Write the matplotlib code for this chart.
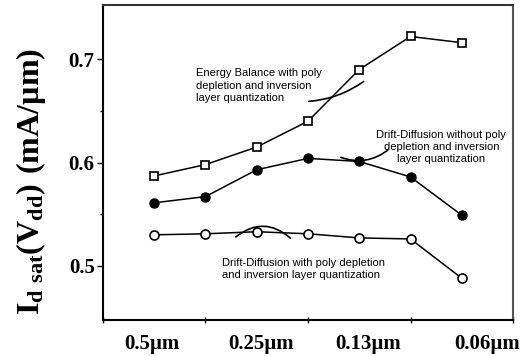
import matplotlib
matplotlib.use('Agg')
import matplotlib.pyplot as plt

plt.rcParams['mathtext.fontset'] = 'custom'
plt.rcParams['mathtext.rm'] = 'Liberation Serif'
plt.rcParams['mathtext.bf'] = 'Liberation Serif:bold'

# data: nodes 1..7
nodes = [1, 2, 3, 4, 5, 6, 7]
energy_balance = [0.587, 0.598, 0.615, 0.640, 0.690, 0.722, 0.716]
dd_no_qm = [0.561, 0.567, 0.593, 0.604, 0.601, 0.586, 0.549]
dd_qm = [0.530, 0.531, 0.533, 0.531, 0.527, 0.526, 0.488]

node_labels = ['0.5µm', '0.25µm', '0.13µm', '0.06µm']
node_label_pos = [0.95, 3.08, 5.17, 7.5]

fig = plt.figure(figsize=(5.32, 3.56), dpi=100)
ax = fig.add_axes([0.1936, 0.101, 0.7707, 0.885])

ax.plot(nodes, energy_balance, '-s', color='black', lw=1.1, ms=6,
        mfc='white', mec='black', mew=1.2)
ax.plot(nodes, dd_no_qm, '-o', color='black', lw=1.1, ms=6.5,
        mfc='black', mec='black')
ax.plot(nodes, dd_qm, '-o', color='black', lw=1.1, ms=6.5,
        mfc='white', mec='black', mew=1.2)

ax.set_xlim(0, 8)
ax.set_ylim(0.4475, 0.7525)

ax.set_yticks([0.5, 0.6, 0.7])
ax.set_yticks([0.55, 0.65], minor=True)
ax.set_yticklabels(['0.5', '0.6', '0.7'], fontfamily='Liberation Serif',
                   fontweight='bold', fontsize=15)
ax.tick_params(axis='y', which='major', direction='out', length=4, width=1, pad=2)
ax.tick_params(axis='y', which='minor', direction='out', length=2, width=1)

ax.set_xticks([0, 2, 4, 6, 8])
ax.set_xticklabels([])
ax.tick_params(axis='x', which='major', direction='inout', length=5, width=1)

for lbl, pos in zip(node_labels, node_label_pos):
    ax.text(pos, -0.075, lbl, transform=ax.get_xaxis_transform(),
            ha='center', va='center', fontfamily='Liberation Serif',
            fontweight='bold', fontsize=15)

for s in ax.spines.values():
    s.set_linewidth(1.5)
ax.spines['top'].set_color('#333333')
ax.spines['right'].set_color('#555555')

fig.text(0.058, 0.49, r'$\mathbf{I_{d\ sat}(V_{dd})\ (mA/µm)}$',
         rotation=90, ha='center', va='center', fontsize=23)

# annotations
ax.text(1.82, 0.6745, 'Energy Balance with poly\ndepletion and inversion\nlayer quantization',
        fontfamily='Liberation Sans', fontsize=8, linespacing=1.3,
        ha='left', va='center')
ax.annotate('', xy=(5.13, 0.680), xytext=(3.96, 0.659),
            arrowprops=dict(arrowstyle='-', lw=1.2, connectionstyle='arc3,rad=0.15'))

ax.text(6.6, 0.615, 'Drift-Diffusion without poly\ndepletion and inversion\nlayer quantization',
        fontfamily='Liberation Sans', fontsize=8, linespacing=1.3,
        ha='center', va='center')
ax.annotate('', xy=(5.6, 0.6137), xytext=(4.59, 0.606),
            arrowprops=dict(arrowstyle='-', lw=1.2, connectionstyle='arc3,rad=0.3'))

ax.text(2.33, 0.497, 'Drift-Diffusion with poly depletion\nand inversion layer quantization',
        fontfamily='Liberation Sans', fontsize=8, linespacing=1.3,
        ha='left', va='center')
ax.annotate('', xy=(3.70, 0.5248), xytext=(2.55, 0.5262),
            arrowprops=dict(arrowstyle='-', lw=1.2, connectionstyle='arc3,rad=-0.45'))

fig.savefig('out.png', dpi=100)
